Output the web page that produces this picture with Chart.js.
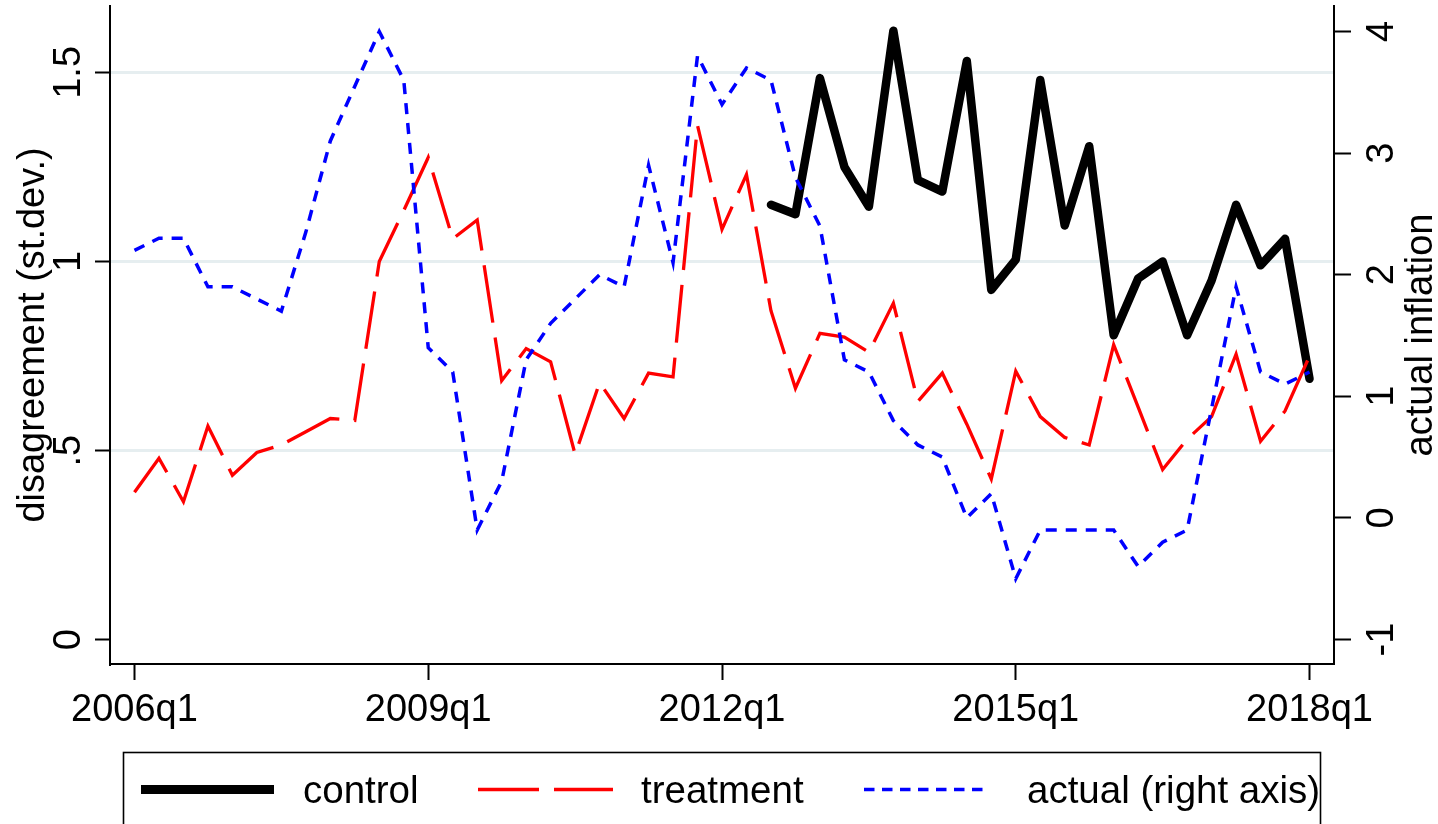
<!DOCTYPE html>
<html>
<head>
<meta charset="utf-8">
<script src="https://cdn.jsdelivr.net/npm/chart.js"></script>
<style>
  html, body { margin: 0; padding: 0; background: #fff; }
  #wrap { position: relative; width: 1438px; height: 824px; overflow: hidden; }
  #legend { position: absolute; left: 0; top: 0; pointer-events: none; }
  #legend text { font-family: "Liberation Sans", Arial, sans-serif; font-size: 38.5px; fill: #000; }
</style>
</head>
<body>
<div id="wrap">
  <canvas id="chart" width="1438" height="824"></canvas>
  <svg id="legend" width="1438" height="824">
    <rect x="123.5" y="752.5" width="1197" height="120" fill="none" stroke="#000" stroke-width="1.6"/>
    <line x1="141" y1="789.5" x2="274" y2="789.5" stroke="#000" stroke-width="9"/>
    <text x="303" y="803">control</text>
    <line x1="478" y1="789.5" x2="613" y2="789.5" stroke="#ff0000" stroke-width="3.3" stroke-dasharray="61 15"/>
    <text x="641" y="803">treatment</text>
    <line x1="864" y1="789.5" x2="990" y2="789.5" stroke="#0000ff" stroke-width="3.5" stroke-dasharray="10.5 7.5"/>
    <text x="1027" y="803">actual (right axis)</text>
  </svg>
</div>
<script>
// quarters 2006q1 .. 2018q1
const quarters = [
  '2006q1','2006q2','2006q3','2006q4','2007q1','2007q2','2007q3','2007q4',
  '2008q1','2008q2','2008q3','2008q4','2009q1','2009q2','2009q3','2009q4',
  '2010q1','2010q2','2010q3','2010q4','2011q1','2011q2','2011q3','2011q4',
  '2012q1','2012q2','2012q3','2012q4','2013q1','2013q2','2013q3','2013q4',
  '2014q1','2014q2','2014q3','2014q4','2015q1','2015q2','2015q3','2015q4',
  '2016q1','2016q2','2016q3','2016q4','2017q1','2017q2','2017q3','2017q4',
  '2018q1'
]

// disagreement, left axis (control only from 2012q3)
let control = [
  null, null, null, null, null, null, null, null,
  null, null, null, null, null, null, null, null,
  null, null, null, null, null, null, null, null,
  null, null, 1.15, 1.125, 1.485, 1.25, 1.145, 1.61,
  1.215, 1.185, 1.53, 0.925, 1.005, 1.48, 1.095, 1.305,
  0.805, 0.955, 1.00, 0.805, 0.95, 1.15, 0.99, 1.06,
  0.69
]
let treatment = [
  0.39, 0.48, 0.365, 0.565, 0.435, 0.495, 0.515, 0.55,
  0.585, 0.58, 1.00, 1.135, 1.275, 1.06, 1.11, 0.685,
  0.77, 0.735, 0.49, 0.68, 0.585, 0.705, 0.695, 1.36,
  1.085, 1.23, 0.87, 0.665, 0.81, 0.80, 0.76, 0.89,
  0.63, 0.705, 0.57, 0.425, 0.71, 0.59, 0.535, 0.515,
  0.78, 0.615, 0.45, 0.53, 0.59, 0.755, 0.525, 0.605,
  0.75
]
// actual inflation, right axis
let actual = [
  2.2, 2.3, 2.3, 1.9, 1.9, 1.8, 1.7, 2.35,
  3.1, 3.55, 4.0, 3.6, 1.4, 1.2, -0.1, 0.3,
  1.3, 1.6, 1.8, 2.0, 1.9, 2.9, 2.1, 3.8,
  3.4, 3.7, 3.6, 2.8, 2.4, 1.3, 1.2, 0.8,
  0.6, 0.5, 0.0, 0.2, -0.5, -0.1, -0.1, -0.1,
  -0.1, -0.4, -0.2, -0.1, 0.9, 1.9, 1.2, 1.1,
  1.2
]

let xTicks = [0, 12, 24, 36, 48]
let leftTicks = [0, 0.5, 1, 1.5]
let leftTickLabels = ['0', '.5', '1', '1.5']
let rightTicks = [-1, 0, 1, 2, 3, 4]
let rightTickLabels = ['-1', '0', '1', '2', '3', '4']

const FONT = '"Liberation Sans", Arial, sans-serif'

function points(values) {
    let out = []
    values.forEach((v, i) => {
        if (v !== null) out.push({ x: i, y: v })
    })
    return out
}

// rotated tick labels and axis titles (read bottom to top, like the original)
const sideText = {
    id: 'sideText',
    afterDraw(chart) {
        const ctx = chart.ctx
        const yL = chart.scales.y
        const yR = chart.scales.y2
        const area = chart.chartArea
        const midY = (area.top + area.bottom) / 2
        const put = (txt, x, y) => {
            ctx.save()
            ctx.translate(x, y)
            ctx.rotate(-Math.PI / 2)
            ctx.fillText(txt, 0, 0)
            ctx.restore()
        }
        ctx.save()
        ctx.fillStyle = '#000'
        ctx.textAlign = 'center'
        ctx.textBaseline = 'alphabetic'
        ctx.font = '38px ' + FONT
        leftTicks.forEach((v, k) => put(leftTickLabels[k], 80, yL.getPixelForValue(v)))
        rightTicks.forEach((v, k) => put(rightTickLabels[k], 1393, yR.getPixelForValue(v)))
        put('disagreement (st.dev.)', 44, midY)
        put('actual inflation', 1432, midY)
        ctx.restore()
    }
}

let ctx = document.getElementById('chart').getContext('2d')

const myChart = new Chart(ctx, {
    type: 'line',
    data: {
        datasets: [{
            label: 'actual (right axis)',
            data: points(actual),
            yAxisID: 'y2',
            borderColor: '#0000ff',
            borderWidth: 3.5,
            borderDash: [11, 9],
            borderCapStyle: 'butt',
            order: 1
        },
        {
            label: 'treatment',
            data: points(treatment),
            yAxisID: 'y',
            borderColor: '#ff0000',
            borderWidth: 3.3,
            borderDash: [58, 15],
            borderCapStyle: 'butt',
            order: 2
        },
        {
            label: 'control',
            data: points(control),
            yAxisID: 'y',
            borderColor: '#000000',
            borderWidth: 8.5,
            borderJoinStyle: 'round',
            borderCapStyle: 'round',
            order: 3
        }]
    },
    options: {
        responsive: false,
        animation: false,
        devicePixelRatio: 1,
        layout: { padding: { top: 6, left: 0, right: 0, bottom: 0 } },
        elements: {
            point: { radius: 0, hoverRadius: 0 },
            line: { tension: 0, fill: false }
        },
        plugins: {
            legend: { display: false },
            tooltip: { enabled: false }
        },
        scales: {
            x: {
                type: 'linear',
                min: -1,
                max: 49,
                afterBuildTicks: axis => { axis.ticks = xTicks.map(v => ({ value: v })) },
                afterFit: axis => { axis.height = 160 },
                grid: {
                    drawOnChartArea: false,
                    drawTicks: true,
                    tickLength: 16,
                    tickColor: '#000',
                    tickWidth: 2
                },
                border: { display: true, color: '#000', width: 2 },
                ticks: {
                    autoSkip: false,
                    maxRotation: 0,
                    minRotation: 0,
                    padding: 8,
                    color: '#000',
                    font: { family: FONT, size: 38 },
                    callback: v => quarters[v]
                }
            },
            y: {
                position: 'left',
                min: -0.064,
                max: 1.6755,
                afterBuildTicks: axis => { axis.ticks = leftTicks.map(v => ({ value: v })) },
                afterFit: axis => { axis.width = 110 },
                grid: {
                    color: c => (c.tick && c.tick.value === 0) ? 'rgba(0,0,0,0)' : '#e6eef0',
                    lineWidth: 3,
                    drawTicks: true,
                    tickLength: 15,
                    tickColor: '#000',
                    tickWidth: 2
                },
                border: { display: true, color: '#000', width: 2 },
                ticks: { display: false }
            },
            y2: {
                position: 'right',
                min: -1.2015,
                max: 4.2097,
                afterBuildTicks: axis => { axis.ticks = rightTicks.map(v => ({ value: v })) },
                afterFit: axis => { axis.width = 104 },
                grid: {
                    drawOnChartArea: false,
                    drawTicks: true,
                    tickLength: 17,
                    tickColor: '#000',
                    tickWidth: 2
                },
                border: { display: true, color: '#000', width: 2 },
                ticks: { display: false }
            }
        }
    },
    plugins: [sideText]
})
</script>
</body>
</html>
